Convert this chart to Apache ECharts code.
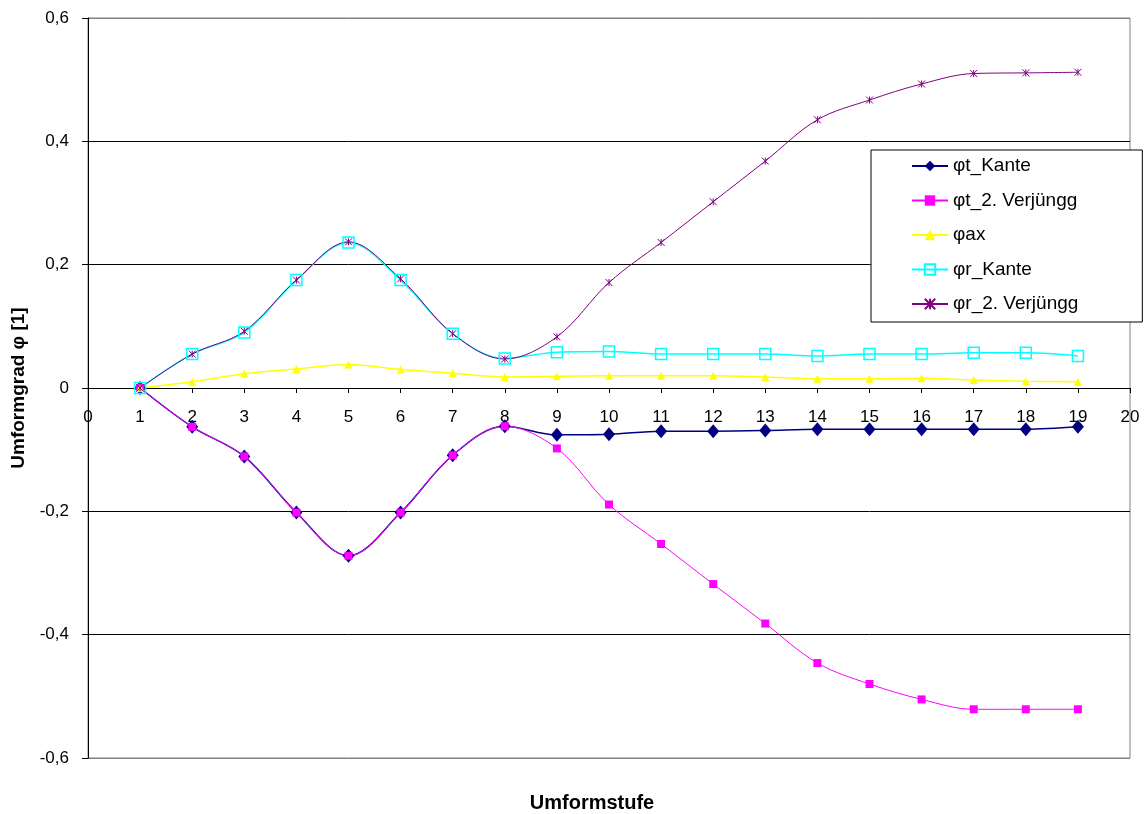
<!DOCTYPE html>
<html>
<head>
<meta charset="utf-8">
<script src="https://cdn.jsdelivr.net/npm/echarts@6/dist/echarts.min.js"></script>
<style>
  html, body { margin: 0; padding: 0; background: #fff; }
  #chart { width: 1147px; height: 814px; }
</style>
</head>
<body>
<div id="chart"></div>
<script>
// Umformstufen 1..19
const stufen = [1, 2, 3, 4, 5, 6, 7, 8, 9, 10, 11, 12, 13, 14, 15, 16, 17, 18, 19];

const phiT_Kante = [0, -0.063, -0.111, -0.202, -0.272, -0.202, -0.109, -0.062, -0.076, -0.075, -0.070, -0.070, -0.069, -0.067, -0.067, -0.067, -0.067, -0.067, -0.063];
const phiT_Verj = [0, -0.063, -0.111, -0.202, -0.272, -0.202, -0.109, -0.062, -0.098, -0.189, -0.253, -0.318, -0.382, -0.446, -0.480, -0.505, -0.521, -0.521, -0.521];
const phiAx = [0, 0.010, 0.023, 0.031, 0.038, 0.030, 0.024, 0.018, 0.019, 0.020, 0.020, 0.020, 0.018, 0.015, 0.015, 0.016, 0.013, 0.011, 0.010];
const phiR_Kante = [0, 0.055, 0.090, 0.175, 0.236, 0.175, 0.088, 0.048, 0.058, 0.059, 0.055, 0.055, 0.055, 0.052, 0.055, 0.055, 0.057, 0.057, 0.052];
const phiR_Verj = [0, 0.055, 0.092, 0.175, 0.237, 0.177, 0.088, 0.047, 0.083, 0.171, 0.236, 0.302, 0.368, 0.435, 0.467, 0.493, 0.510, 0.511, 0.512];

const seriesNames = ['φt_Kante', 'φt_2. Verjüngg', 'φax', 'φr_Kante', 'φr_2. Verjüngg'];

const pairs = vals => stufen.map((s, i) => [s, vals[i]]);
const FONT = 'Liberation Sans, Arial, sans-serif';
const SMOOTH = 0.35;

const GRID_TOP = 18, GRID_BOTTOM = 56, HEIGHT = 814;
// x axis sits on the zero line, halfway down the symmetric y range
const zeroOffset = -((HEIGHT - GRID_TOP - GRID_BOTTOM) / 2);

const chart = echarts.init(document.getElementById('chart'), null, { renderer: 'canvas' });

chart.setOption({
  backgroundColor: '#fff',
  animation: false,
  grid: {
    left: 88, right: 17, top: GRID_TOP, bottom: GRID_BOTTOM,
    outerBoundsMode: 'none', containLabel: false,
    show: true, borderColor: '#808080', borderWidth: 1, backgroundColor: 'transparent'
  },
  xAxis: {
    type: 'value', min: 0, max: 20, interval: 1,
    position: 'bottom', offset: zeroOffset,
    axisLine: { onZero: false, lineStyle: { color: '#000', width: 1 } },
    axisTick: { show: true, inside: false, length: 5, lineStyle: { color: '#000' } },
    axisLabel: { color: '#000', fontFamily: FONT, fontSize: 17, margin: 21, showMinLabel: true, showMaxLabel: true },
    splitLine: { show: false }
  },
  yAxis: {
    type: 'value', min: -0.6, max: 0.6, interval: 0.2,
    name: 'Umformgrad φ [1]', nameLocation: 'middle', nameRotate: 90, nameGap: 60,
    nameTextStyle: { color: '#000', fontFamily: FONT, fontSize: 19, fontWeight: 'bold' },
    axisLine: { show: true, onZero: false, lineStyle: { color: '#000', width: 1 } },
    axisTick: { show: true, inside: false, length: 6, lineStyle: { color: '#000' } },
    axisLabel: {
      color: '#000', fontFamily: FONT, fontSize: 17, margin: 19,
      formatter: v => {
        const r = Math.round(v * 10) / 10;
        return r === 0 ? '0' : r.toFixed(1).replace('.', ',');
      }
    },
    splitLine: {
      show: true,
      lineStyle: { color: ['#808080', '#000', '#000', '#000', '#000', '#000', '#808080'], width: 1 }
    }
  },
  legend: {
    orient: 'vertical', left: 871, top: 150,
    padding: [6, 64, 8, 40], itemGap: 14.5,
    itemWidth: 36, itemHeight: 13,
    backgroundColor: '#fff', borderColor: '#000', borderWidth: 1, borderRadius: 0,
    textStyle: { color: '#000', fontFamily: FONT, fontSize: 19, lineHeight: 20 },
    data: seriesNames
  },
  graphic: [{
    type: 'text', x: 592, y: 803,
    style: {
      text: 'Umformstufe', fill: '#000', font: 'bold 20px ' + FONT,
      align: 'center', verticalAlign: 'middle'
    }
  }],
  series: [
    {
      name: seriesNames[0], type: 'line', data: pairs(phiT_Kante), smooth: SMOOTH,
      symbol: 'diamond', symbolSize: [12, 14],
      lineStyle: { color: '#000080', width: 1.5 },
      itemStyle: { color: '#000080' }
    },
    {
      name: seriesNames[1], type: 'line', data: pairs(phiT_Verj), smooth: SMOOTH,
      symbol: 'rect', symbolSize: 8,
      lineStyle: { color: '#FF00FF', width: 1 },
      itemStyle: { color: '#FF00FF' }
    },
    {
      name: seriesNames[2], type: 'line', data: pairs(phiAx), smooth: SMOOTH,
      symbol: 'triangle', symbolSize: 8,
      lineStyle: { color: '#FFFF00', width: 1.5 },
      itemStyle: { color: '#FFFF00' }
    },
    {
      name: seriesNames[3], type: 'line', data: pairs(phiR_Kante), smooth: SMOOTH,
      symbol: 'rect', symbolSize: 11,
      lineStyle: { color: '#00FFFF', width: 1.5 },
      itemStyle: { color: 'rgba(0,0,0,0)', borderColor: '#00FFFF', borderWidth: 1.5 }
    },
    {
      name: seriesNames[4], type: 'line', data: pairs(phiR_Verj), smooth: SMOOTH,
      symbol: 'path://M0,0L10,10M10,0L0,10M5,0L5,10', symbolSize: 7,
      lineStyle: { color: '#800080', width: 1 },
      itemStyle: { color: '#800080', borderColor: '#800080', borderWidth: 1 }
    }
  ]
});
</script>
</body>
</html>
